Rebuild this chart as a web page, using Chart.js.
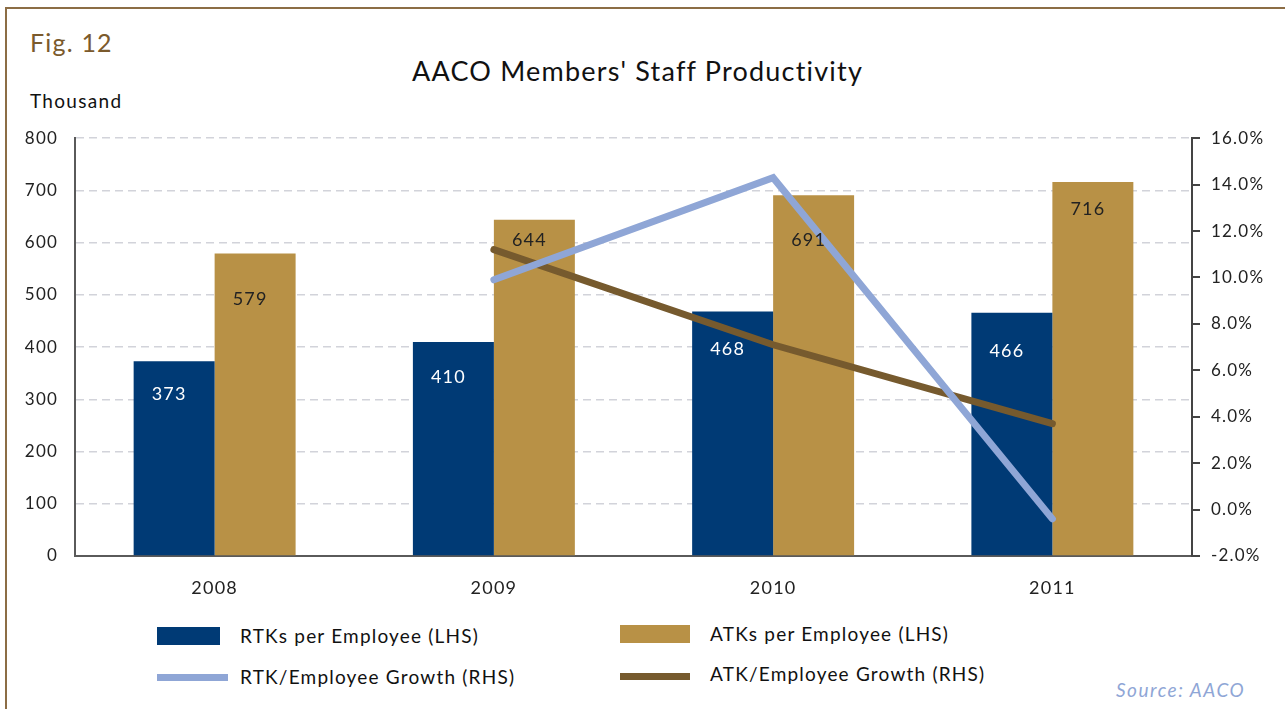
<!DOCTYPE html>
<html>
<head>
<meta charset="utf-8">
<script src="https://cdn.jsdelivr.net/npm/chart.js@4/dist/chart.umd.min.js"></script>
<style>
    body { margin: 0; background: #fff; font-family: Lato, "Open Sans", sans-serif; letter-spacing: 1.2px; width: 1285px; height: 709px; overflow: hidden; position: relative; }
    .frame { position: absolute; left: 5px; top: 7px; width: 1300px; height: 720px; border-left: 2px solid #8c6d45; border-top: 2px solid #8c6d45; }
    .fig { position: absolute; left: 30px; top: 27px; font-size: 25px; color: #7b5a2c; }
    .title { position: absolute; left: 0; width: 1275px; top: 54px; text-align: center; font-size: 27px; color: #111; }
    .unit { position: absolute; left: 30px; top: 89px; font-size: 19px; color: #111; letter-spacing: 1.3px; }
    .chart-box { position: absolute; left: 20px; top: 111px; width: 1265px; height: 489px; }
    .legend-item { position: absolute; font-size: 19px; color: #111; }
    .swatch { position: absolute; }
    .source { position: absolute; left: 1116px; top: 678px; font-size: 19px; font-style: italic; color: #8fa6d6; letter-spacing: 1.5px; }
</style>
</head>
<body>
<div class="frame"></div>
<div class="fig">Fig. 12</div>
<div class="title">AACO Members' Staff Productivity</div>
<div class="unit">Thousand</div>
<div class="chart-box"><canvas id="productivityChart"></canvas></div>

<div class="swatch" style="left:157px; top:627px; width:63px; height:18px; background:#003a75;"></div>
<div class="legend-item" style="left:240px; top:624px;">RTKs per Employee (LHS)</div>
<div class="swatch" style="left:620px; top:625px; width:70px; height:18px; background:#b89146;"></div>
<div class="legend-item" style="left:710px; top:622px;">ATKs per Employee (LHS)</div>
<div class="swatch" style="left:157px; top:674px; width:71px; height:7px; background:#8fa6d6;"></div>
<div class="legend-item" style="left:240px; top:665px;">RTK/Employee Growth (RHS)</div>
<div class="swatch" style="left:620px; top:673px; width:70px; height:7px; background:#765a2e;"></div>
<div class="legend-item" style="left:710px; top:662px;">ATK/Employee Growth (RHS)</div>
<div class="source">Source: AACO</div>

<script>
// Chart data
const years = ['2008', '2009', '2010', '2011'];
const rtkPerEmployee = [373, 410, 468, 466];
const atkPerEmployee = [579, 644, 691, 716];
const rtkGrowth = [null, 9.9, 14.3, -0.4];
const atkGrowth = [null, 11.2, 7.1, 3.7];

// How far below the bar top each value label sits (px)
const rtkLabelDrop = [33, 35, 38, 39];
const atkLabelDrop = [46, 21, 45, 27];

const FONT = 'Lato, "Open Sans", sans-serif';

// Wider text on the canvas, closer to the original typeface
const letterSpacing = {
    id: 'letterSpacing',
    beforeDraw(chart) {
        chart.ctx.letterSpacing = '1.2px';
    }
};

// Value labels inside the bars
const barLabels = {
    id: 'barLabels',
    afterDatasetsDraw(chart) {
        const ctx = chart.ctx;
        ctx.save();
        ctx.font = '18px ' + FONT;
        ctx.textAlign = 'center';
        ctx.textBaseline = 'middle';
        chart.data.datasets.forEach((ds, i) => {
            if (ds.type !== 'bar') return;
            const drops = ds.label.startsWith('RTK') ? rtkLabelDrop : atkLabelDrop;
            ctx.fillStyle = ds.label.startsWith('RTK') ? '#ffffff' : '#222222';
            chart.getDatasetMeta(i).data.forEach((bar, j) => {
                ctx.fillText(String(ds.data[j]), bar.x - 5, bar.y + drops[j]);
            });
        });
        ctx.restore();
    }
};

new Chart(document.getElementById('productivityChart'), {
    data: {
        labels: years,
        datasets: [
            {
                type: 'line',
                label: 'RTK/Employee Growth (RHS)',
                data: rtkGrowth,
                yAxisID: 'yRight',
                borderColor: '#8fa6d6',
                borderWidth: 7,
                borderCapStyle: 'round',
                borderJoinStyle: 'miter',
                pointRadius: 0,
                order: 0
            },
            {
                type: 'line',
                label: 'ATK/Employee Growth (RHS)',
                data: atkGrowth,
                yAxisID: 'yRight',
                borderColor: '#765a2e',
                borderWidth: 7,
                borderCapStyle: 'round',
                pointRadius: 0,
                order: 0
            },
            {
                type: 'bar',
                label: 'RTKs per Employee (LHS)',
                data: rtkPerEmployee,
                yAxisID: 'yLeft',
                backgroundColor: '#003a75',
                categoryPercentage: 0.58,
                barPercentage: 1,
                order: 1
            },
            {
                type: 'bar',
                label: 'ATKs per Employee (LHS)',
                data: atkPerEmployee,
                yAxisID: 'yLeft',
                backgroundColor: '#b89146',
                categoryPercentage: 0.58,
                barPercentage: 1,
                order: 1
            }
        ]
    },
    options: {
        responsive: true,
        maintainAspectRatio: false,
        animation: false,
        layout: { padding: { top: 8, left: 0, right: 0, bottom: 0 } },
        plugins: {
            legend: { display: false },
            tooltip: { enabled: false }
        },
        scales: {
            x: {
                grid: { display: false, drawTicks: false },
                border: { display: true, color: '#5a5a5a', width: 2 },
                ticks: { color: '#222', font: { family: FONT, size: 18 }, padding: 21 },
                afterFit: (scale) => { scale.height = 44; }
            },
            yLeft: {
                position: 'left',
                min: 0,
                max: 800,
                ticks: { stepSize: 100, color: '#222', font: { family: FONT, size: 17 }, padding: 17 },
                grid: { color: '#d2d3da', lineWidth: 1.5, drawTicks: false },
                border: { display: true, color: '#5a5a5a', width: 2, dash: [8, 5] },
                afterFit: (scale) => { scale.width = 55; }
            },
            yRight: {
                position: 'right',
                min: -2,
                max: 16,
                ticks: {
                    stepSize: 2,
                    color: '#222',
                    font: { family: FONT, size: 17 },
                    padding: 11,
                    callback: (v) => v.toFixed(1) + '%'
                },
                grid: { drawOnChartArea: false, drawTicks: true, tickLength: 8, color: '#444', lineWidth: 2 },
                border: { display: true, color: '#444', width: 2 },
                afterFit: (scale) => { scale.width = 93; }
            }
        }
    },
    plugins: [letterSpacing, barLabels]
});
</script>
</body>
</html>
